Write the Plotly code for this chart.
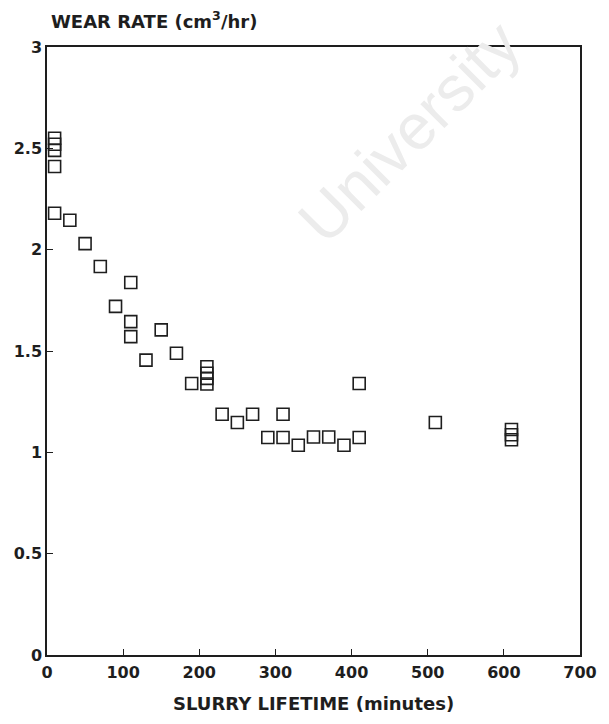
import plotly.graph_objects as go

lifetime_min = [10, 10, 10, 10, 10, 30, 50, 70, 90, 110, 110, 110, 130, 150, 170, 190,
                210, 210, 210, 210, 230, 250, 270, 290, 310, 310, 330, 350, 370, 390,
                410, 410, 510, 610, 610, 610]
wear_rate = [2.55, 2.52, 2.49, 2.41, 2.18, 2.145, 2.03, 1.917, 1.72, 1.838, 1.645, 1.571,
             1.455, 1.604, 1.489, 1.34, 1.422, 1.39, 1.365, 1.337, 1.188, 1.147, 1.188,
             1.073, 1.188, 1.073, 1.035, 1.076, 1.076, 1.035, 1.34, 1.073, 1.147,
             1.113, 1.087, 1.062]

x_ticks = [0, 100, 200, 300, 400, 500, 600, 700]
y_ticks = [0, 0.5, 1, 1.5, 2, 2.5, 3]
y_tick_text = ["0", "0.5", "1", "1.5", "2", "2.5", "3"]

ink = "#1e1e1e"
fnt = "DejaVu Sans"

fig = go.Figure()
fig.add_trace(go.Scatter(
    x=lifetime_min, y=wear_rate, mode="markers",
    marker=dict(symbol="square-open", size=12, color=ink, line=dict(width=1.6, color=ink)),
    showlegend=False, cliponaxis=False,
))

fig.update_layout(
    width=609, height=724,
    margin=dict(l=47, r=21, t=47, b=69),
    paper_bgcolor="white", plot_bgcolor="white",
    xaxis=dict(range=[0, 700], tickvals=x_ticks, ticks="inside", ticklen=6, tickwidth=1.2,
               tickcolor=ink, showline=True, linecolor=ink, linewidth=1.5, mirror=True,
               showgrid=False, zeroline=False, ticklabelstandoff=2,
               tickfont=dict(family=fnt, size=16, color=ink, weight="bold")),
    yaxis=dict(range=[0, 3], tickvals=y_ticks, ticktext=y_tick_text, ticks="inside",
               ticklen=6, tickwidth=1.2, tickcolor=ink, showline=True, linecolor=ink,
               linewidth=1.5, mirror=True, showgrid=False, zeroline=False,
               tickfont=dict(family=fnt, size=16, color=ink, weight="bold")),
    annotations=[
        dict(text="University", x=0.68, y=0.86, xref="paper", yref="paper",
             xanchor="center", yanchor="middle",
             showarrow=False, textangle=-45,
             font=dict(family="Liberation Sans", size=64, color="#ececec")),
        dict(text="WEAR RATE (cm<sup>3</sup>/hr)", x=0.003, y=1.0, xref="paper", yref="paper",
             xanchor="left", yanchor="bottom", yshift=13, showarrow=False,
             font=dict(family=fnt, size=18, color=ink, weight="bold")),
        dict(text="SLURRY LIFETIME (minutes)", x=0.5, y=0, xref="paper", yref="paper",
             xanchor="center", yanchor="top", yshift=-36, showarrow=False,
             font=dict(family=fnt, size=18, color=ink, weight="bold")),
    ],
)

fig.write_html("out.html")
